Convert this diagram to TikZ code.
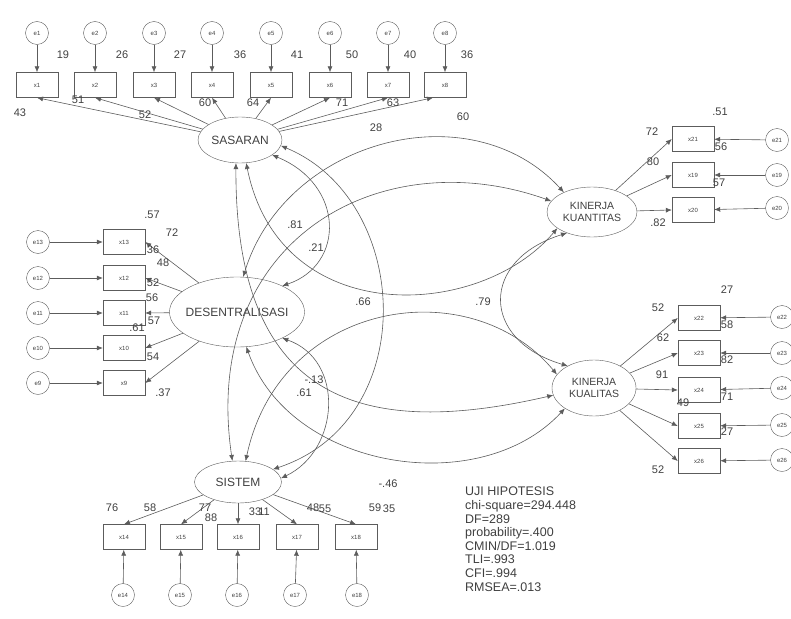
\documentclass[tikz,border=0pt]{standalone}
\usepackage{fontspec}
\setmainfont{Liberation Sans}
\usetikzlibrary{arrows.meta, shapes.geometric}
\definecolor{linegray}{HTML}{5C5C5C}
\definecolor{textgray}{HTML}{404040}

\begin{document}
\begin{tikzpicture}[
    x=1pt, y=-1pt,
    err/.style={circle, draw=linegray, minimum size=23pt, inner sep=0pt, text=textgray, font=\fontsize{6}{6}\selectfont},
    obs/.style={draw=linegray, minimum width=42pt, minimum height=25pt, inner sep=0pt, text=textgray, font=\fontsize{6}{6}\selectfont},
    lat/.style={ellipse, draw=linegray, align=center, inner sep=0pt, text=textgray, font=\fontsize{12}{12}\selectfont},
    kin/.style={lat, font=\fontsize{10.5}{12}\selectfont},
    num/.style={inner sep=0pt, text=textgray, font=\fontsize{11}{11}\selectfont},
    flow/.style={-{Latex[length=6pt,width=5pt]}, linegray, line width=0.6pt},
    cov/.style={{Latex[length=6pt,width=5pt]}-{Latex[length=6pt,width=5pt]}, linegray, line width=0.6pt}
]
\useasboundingbox (0,0) rectangle (791,618);

\node[lat, minimum width=84pt, minimum height=46pt] (sas) at (240,140) {SASARAN};
\node[lat, minimum width=135pt, minimum height=70pt, inner xsep=-4pt] (des) at (237,312) {DESENTRALISASI};
\node[lat, minimum width=87pt, minimum height=42pt] (sis) at (238,482) {SISTEM};
\node[kin, minimum width=90pt, minimum height=50pt] (kn) at (592,212) {KINERJA\\KUANTITAS};
\node[kin, minimum width=84pt, minimum height=56pt] (kl) at (594,388) {KINERJA\\KUALITAS};

\node[err] (e1) at (37,33) {e1};
\node[err] (e2) at (95,33) {e2};
\node[err] (e3) at (154,33) {e3};
\node[err] (e4) at (212,33) {e4};
\node[err] (e5) at (271,33) {e5};
\node[err] (e6) at (330,33) {e6};
\node[err] (e7) at (388,33) {e7};
\node[err] (e8) at (445,33) {e8};

\node[obs] (x1) at (37,85) {x1};
\node[obs] (x2) at (95,85) {x2};
\node[obs] (x3) at (154,85) {x3};
\node[obs] (x4) at (212,85) {x4};
\node[obs] (x5) at (271,85) {x5};
\node[obs] (x6) at (330,85) {x6};
\node[obs] (x7) at (388,85) {x7};
\node[obs] (x8) at (445,85) {x8};

\node[err] (e13) at (38,242) {e13};
\node[err] (e12) at (38,278) {e12};
\node[err] (e11) at (38,313) {e11};
\node[err] (e10) at (38,348) {e10};
\node[err] (e9) at (38,383) {e9};

\node[obs] (x13) at (124,242) {x13};
\node[obs] (x12) at (124,278) {x12};
\node[obs] (x11) at (124,313) {x11};
\node[obs] (x10) at (124,348) {x10};
\node[obs] (x9) at (124,383) {x9};

\node[obs] (x14) at (124,537) {x14};
\node[obs] (x15) at (181,537) {x15};
\node[obs] (x16) at (238,537) {x16};
\node[obs] (x17) at (297,537) {x17};
\node[obs] (x18) at (356,537) {x18};

\node[err] (e14) at (123,595) {e14};
\node[err] (e15) at (180,595) {e15};
\node[err] (e16) at (237,595) {e16};
\node[err] (e17) at (295,595) {e17};
\node[err] (e18) at (357,595) {e18};

\node[obs] (x21) at (693,139) {x21};
\node[obs] (x19) at (693,175) {x19};
\node[obs] (x20) at (693,210) {x20};

\node[err] (e21) at (777,140) {e21};
\node[err] (e19) at (777,175) {e19};
\node[err] (e20) at (777,208) {e20};

\node[obs] (x22) at (699,318) {x22};
\node[obs] (x23) at (699,353) {x23};
\node[obs] (x24) at (699,390) {x24};
\node[obs] (x25) at (699,426) {x25};
\node[obs] (x26) at (699,461) {x26};

\node[err] (e22) at (782,317) {e22};
\node[err] (e23) at (782,353) {e23};
\node[err] (e24) at (782,388) {e24};
\node[err] (e25) at (782,425) {e25};
\node[err] (e26) at (782,460) {e26};

\draw[flow] (e1) -- (x1);
\draw[flow] (e2) -- (x2);
\draw[flow] (e3) -- (x3);
\draw[flow] (e4) -- (x4);
\draw[flow] (e5) -- (x5);
\draw[flow] (e6) -- (x6);
\draw[flow] (e7) -- (x7);
\draw[flow] (e8) -- (x8);
\draw[flow] (sas) -- (x1.south);
\draw[flow] (sas) -- (x2.south);
\draw[flow] (sas) -- (x3.south);
\draw[flow] (sas) -- (x4.south);
\draw[flow] (sas) -- (x5.south);
\draw[flow] (sas) -- (x6.south);
\draw[flow] (sas) -- (x7.south);
\draw[flow] (sas) -- ([xshift=-12pt]x8.south);

\draw[flow] (e13) -- (x13);
\draw[flow] (e12) -- (x12);
\draw[flow] (e11) -- (x11);
\draw[flow] (e10) -- (x10);
\draw[flow] (e9) -- (x9);
\draw[flow] (des) -- (x13.east);
\draw[flow] (des) -- (x12.east);
\draw[flow] (des) -- (x11.east);
\draw[flow] (des) -- (x10.east);
\draw[flow] (des) -- (x9.east);

\draw[flow] (e14) -- (x14);
\draw[flow] (e15) -- (x15);
\draw[flow] (e16) -- (x16);
\draw[flow] (e17) -- (x17);
\draw[flow] (e18) -- (x18);
\draw[flow] (sis) -- (x14.north);
\draw[flow] (sis) -- (x15.north);
\draw[flow] (sis) -- (x16.north);
\draw[flow] (sis) -- (x17.north);
\draw[flow] (sis) -- (x18.north);

\draw[flow] (e21) -- (x21);
\draw[flow] (e19) -- (x19);
\draw[flow] (e20) -- (x20);
\draw[flow] (kn) -- (x21.west);
\draw[flow] (kn) -- (x19.west);
\draw[flow] (kn) -- (x20.west);

\draw[flow] (e22) -- (x22);
\draw[flow] (e23) -- (x23);
\draw[flow] (e24) -- (x24);
\draw[flow] (e25) -- (x25);
\draw[flow] (e26) -- (x26);
\draw[flow] (kl) -- (x22.west);
\draw[flow] (kl) -- (x23.west);
\draw[flow] (kl) -- (x24.west);
\draw[flow] (kl) -- (x25.west);
\draw[flow] (kl) -- (x26.west);

\draw[cov] (sas.-25) .. controls (345,185) and (345,265) .. (des.30);
\draw[cov] (sas.-8) .. controls (412,200) and (422,420) .. (sis.20);
\draw[cov] (sas.-75) .. controls (280,330) and (480,320) .. (kn.205);
\draw[cov] (sas.-100) .. controls (235,400) and (360,440) .. (kl.190);
\draw[cov] (des.80) .. controls (285,140) and (470,90) .. (kn.145);
\draw[cov] (des.-30) .. controls (345,360) and (340,450) .. (sis.5);
\draw[cov] (des.-75) .. controls (290,470) and (480,500) .. (kl.215);
\draw[cov] (kn.165) .. controls (380,140) and (200,240) .. (sis.105);
\draw[cov] (sis.70) .. controls (280,300) and (470,270) .. (kl.160);
\draw[cov] (kn.220) .. controls (480,260) and (480,340) .. (kl.140);

\node[num] (sq1) at (63,55) {19};
\node[num] (sq2) at (122,55) {26};
\node[num] (sq3) at (180,55) {27};
\node[num] (sq4) at (240,55) {36};
\node[num] (sq5) at (297,55) {41};
\node[num] (sq6) at (352,55) {50};
\node[num] (sq7) at (410,55) {40};
\node[num] (sq8) at (467,55) {36};
\node[num] (ld1) at (20,113) {43};
\node[num] (ld2) at (78,100) {51};
\node[num] (ld3) at (145,115) {52};
\node[num] (ld4) at (205,103) {60};
\node[num] (ld5) at (253,103) {64};
\node[num] (ld6) at (342,103) {71};
\node[num] (ld7) at (393,103) {63};
\node[num] (ld8) at (463,117) {60};

\node[num] (sq13) at (152,215) {.57};
\node[num] (ld13) at (172,233) {72};
\node[num] (sq12) at (153,250) {36};
\node[num] (ld12) at (163,263) {48};
\node[num] (sq11) at (153,283) {52};
\node[num] (ld11) at (152,298) {56};
\node[num] (sq10) at (154,321) {57};
\node[num] (ld10) at (137,328) {.61};
\node[num] (sq9) at (153,357) {54};
\node[num] (ld9) at (163,393) {.37};

\node[num] (sq21) at (720,112) {.51};
\node[num] (ld21) at (652,132) {72};
\node[num] (ld19) at (653,162) {80};
\node[num] (sq19) at (721,147) {56};
\node[num] (sq20) at (719,183) {57};
\node[num] (ld20) at (658,223) {.82};

\node[num] (sq22) at (727,290) {27};
\node[num] (ld22) at (658,308) {52};
\node[num] (ld23) at (663,338) {62};
\node[num] (sq23) at (727,325) {58};
\node[num] (sq24) at (727,360) {82};
\node[num] (ld24) at (662,375) {91};
\node[num] (ld25) at (683,403) {49};
\node[num] (sq25) at (727,397) {71};
\node[num] (sq26) at (727,432) {27};
\node[num] (ld26) at (658,470) {52};

\node[num] (sq14) at (112,508) {76};
\node[num] (ld14) at (150,508) {58};
\node[num] (sq15) at (205,508) {77};
\node[num] (ld15) at (211,518) {88};
\node[num] (sq16) at (255,512) {33};
\node[num] (ld16) at (264,512) {11};
\node[num] (sq17) at (313,508) {48};
\node[num] (ld17) at (325,509) {55};
\node[num] (sq18) at (375,508) {59};
\node[num] (ld18) at (389,509) {35};

\node[num] (c1) at (376,128) {28};
\node[num] (c2) at (295,225) {.81};
\node[num] (c3) at (316,248) {.21};
\node[num] (c4) at (363,302) {.66};
\node[num] (c5) at (483,302) {.79};
\node[num] (c6) at (314,380) {-.13};
\node[num] (c7) at (304,393) {.61};
\node[num] (c8) at (388,484) {-.46};

\node[anchor=north west, align=left, inner sep=0pt, text=textgray, font=\fontsize{12.5}{13.6}\selectfont] (uji) at (465,487)
  {UJI HIPOTESIS\\chi-square=294.448\\DF=289\\probability=.400\\CMIN/DF=1.019\\TLI=.993\\CFI=.994\\RMSEA=.013};
\end{tikzpicture}
\end{document}
